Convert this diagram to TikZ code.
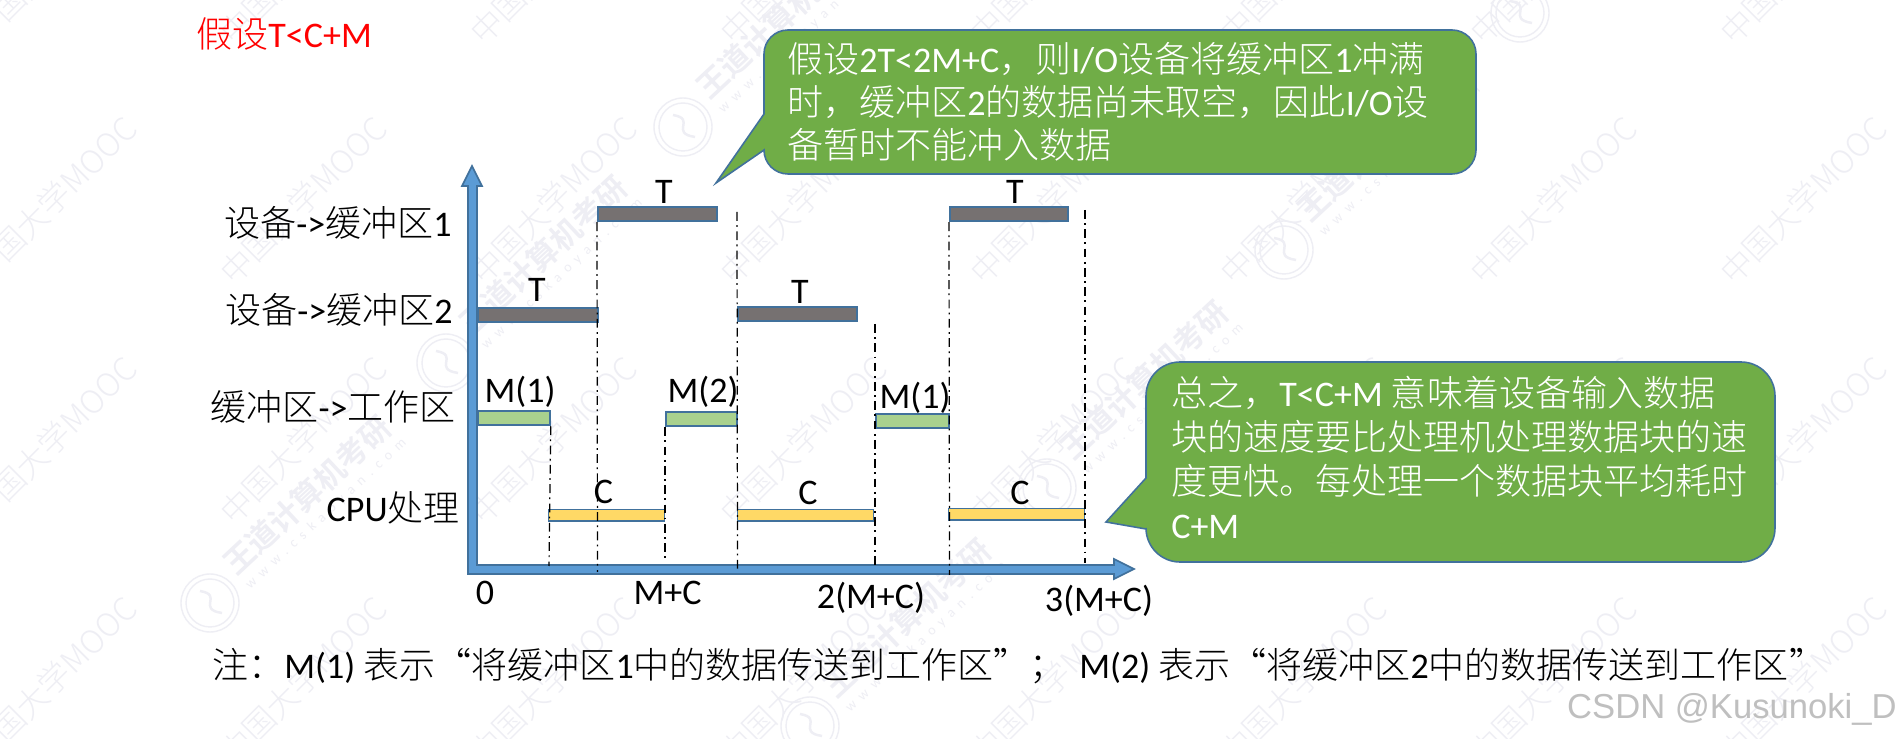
\documentclass[tikz,border=0pt]{standalone}
\usepackage{fontspec}
\usepackage{xcolor}
\setmainfont{Carlito}
\newfontfamily\cjk{Noto Sans CJK SC Light}
\newfontfamily\sitefont{Carlito}[LetterSpace=48]
\newfontfamily\stampfont{Liberation Sans}
\newcommand{\zh}[1]{{\cjk #1}}
\definecolor{axisblue}{RGB}{91, 155, 213}
\definecolor{edgeblue}{RGB}{65, 113, 156}
\definecolor{devgray}{RGB}{118, 113, 113}
\definecolor{memgreen}{RGB}{169, 209, 142}
\definecolor{cpuyellow}{RGB}{255, 217, 102}
\definecolor{calloutgreen}{RGB}{112, 173, 71}
\definecolor{markgray}{RGB}{238, 238, 244}
\usetikzlibrary{arrows.meta, positioning, calc}
\tikzset{
    timebar/.style={draw=edgeblue, line width=1pt, anchor=north west, inner sep=0pt, minimum height=0.29cm},
    devbar/.style={timebar, fill=devgray},
    membar/.style={timebar, fill=memgreen},
    cpubar/.style={timebar, fill=cpuyellow, line width=0.8pt, minimum height=0.23cm},
    guide/.style={black, line width=0.7pt, dash pattern=on 5pt off 2.5pt on 1pt off 2.5pt},
    callout/.style={draw=edgeblue, line width=0.9pt, fill=calloutgreen},
    lbl/.style={inner sep=0pt, font=\fontsize{20.5}{24.4}\selectfont},
    calloutlbl/.style={lbl, white, align=left, anchor=north west},
    rowlbl/.style={lbl, anchor=east},
    mooc/.style={inner sep=0pt, rotate=45, text=markgray, font=\cjk\fontsize{18.2}{20}\selectfont},
    wangdao/.style={inner sep=0pt, rotate=43, text=markgray, font=\cjk\bfseries\fontsize{17.5}{20}\selectfont},
    site/.style={inner sep=0pt, rotate=43, text=markgray, font=\sitefont\fontsize{8}{10}\selectfont},
    logo/.style={markgray, line width=0.8pt}
}
\begin{document}
\begin{tikzpicture}[x=0.02cm, y=-0.02cm]
    \useasboundingbox[fill=white] (0,0) rectangle (1897,739);

    % faint marks behind everything
    \foreach \i in {0,...,7}
        \foreach \j in {-1,...,2}
            \node[mooc] (mooc\i\j) at ({53+250*\i},{200+240*\j}) {中国大学MOOC};
    \foreach \lx/\ly [count=\k] in {210/603, 446/363, 683/127, 810/726, 1047/488, 1284/250, 1520/13} {
        \draw[logo] (\lx,\ly) circle (0.58cm) circle (0.48cm);
        \draw[logo, line width=1.4pt] (\lx-10,\ly-12) .. controls (\lx+14,\ly-8) and (\lx-14,\ly+6) .. (\lx+12,\ly+10);
        \node[wangdao] (wd\k) at (\lx+97,\ly-108) {王道计算机考研};
        \node[site] (site\k) at (\lx+116,\ly-89) {www.cskaoyan.com};
    }

    \node[lbl, red, anchor=west] (title) at (196,34) {\zh{假设}T<C+M};

    % axes as one bent block arrow
    \draw[draw=edgeblue, line width=0.9pt, fill=axisblue]
        (477,565) -- (1114,565) -- (1114,559) -- (1134,569) -- (1114,579) -- (1114,574)
        -- (468,574) -- (468,186) -- (462,186) -- (472,166) -- (482,186) -- (477,186) -- cycle;

    % time bars
    \node[devbar, minimum width=2.38cm] (dev1a) at (597,206) {};
    \node[devbar, minimum width=2.36cm] (dev1b) at (949,206) {};
    \node[devbar, minimum width=2.40cm] (dev2a) at (477,307) {};
    \node[devbar, minimum width=2.38cm] (dev2b) at (737,306) {};
    \node[membar, minimum width=1.44cm] (mem1a) at (477,410) {};
    \node[membar, minimum width=1.42cm] (mem2a) at (665,411) {};
    \node[membar, minimum width=1.46cm] (mem1b) at (875,413) {};
    \node[cpubar, minimum width=2.32cm] (cpua) at (548,509) {};
    \node[cpubar, minimum width=2.72cm] (cpub) at (737,509) {};
    \node[cpubar, minimum width=2.72cm] (cpuc) at (948,508) {};

    % guide lines
    \coordinate (top4) at (737,212);
    \coordinate (top5) at (875,324);
    \coordinate (top7) at (1085,210);
    \coordinate (end1) at (549,566);
    \coordinate (end2) at (597.5,572);
    \coordinate (end3) at (665,561);
    \coordinate (end4) at (737.5,573);
    \coordinate (end5) at (875,565);
    \coordinate (end6) at (949.5,575);
    \coordinate (end7) at (1085,563);
    \draw[guide] (mem1a.south east) -- (end1);
    \draw[guide] (dev1a.south west) -- (end2);
    \draw[guide] (mem2a.south west) -- (end3);
    \draw[guide] (top4) -- (end4);
    \draw[guide] (top5) -- (end5);
    \draw[guide] (dev1b.south west) -- (end6);
    \draw[guide] (top7) -- (end7);

    % row names
    \node[rowlbl] (row1) at (452,223) {\zh{设备}->\zh{缓冲区}1};
    \node[rowlbl] (row2) at (453,310) {\zh{设备}->\zh{缓冲区}2};
    \node[rowlbl] (row3) at (456,407) {\zh{缓冲区}->\zh{工作区}};
    \node[rowlbl] (row4) at (460,508) {CPU\zh{处理}};

    % bar labels
    \node[lbl] (t1) at (664,192) {T};
    \node[lbl] (t2) at (537,290) {T};
    \node[lbl] (t3) at (800,292) {T};
    \node[lbl] (t4) at (1015,192) {T};
    \node[lbl] (m1) at (520,392) {M(1)};
    \node[lbl] (m2) at (703,392) {M(2)};
    \node[lbl] (m3) at (915,398) {M(1)};
    \node[lbl] (c1) at (603.5,492) {C};
    \node[lbl] (c2) at (808,493) {C};
    \node[lbl] (c3) at (1020,493) {C};

    % axis ticks
    \node[lbl] (tick0) at (485,593) {0};
    \node[lbl] (tick1) at (667.5,593) {M+C};
    \node[lbl] (tick2) at (871,598) {2(M+C)};
    \node[lbl] (tick3) at (1099,601) {3(M+C)};

    % callouts
    \draw[callout] (764,114) [rounded corners=0.48cm] -- (764,30) -- (1476,30) -- (1476,174) -- (764,174)
        [sharp corners] -- (764,150) -- (716,183) -- cycle;
    \node[calloutlbl] (note1) at (787,42) {\zh{假设}2T<2M+C\zh{，则}I/O\zh{设备将缓冲区}1\zh{冲满}\\
        \zh{时，缓冲区}2\zh{的数据尚未取空，因此}I/O\zh{设}\\
        \zh{备暂时不能冲入数据}};
    \draw[callout] (1146,478) [rounded corners=0.68cm] -- (1146,362) -- (1775,362) -- (1775,562) -- (1146,562)
        [sharp corners] -- (1146,529) -- (1106,522) -- cycle;
    \node[calloutlbl, font=\fontsize{20.5}{25}\selectfont] (note2) at (1171,376) {\zh{总之，}T<C+M \zh{意味着设备输入数据}\\
        \zh{块的速度要比处理机处理数据块的速}\\
        \zh{度更快。每处理一个数据块平均耗时}\\
        C+M};

    % footnote
    \node[lbl, anchor=west] (foot) at (212,666) {\zh{注：}M(1) \zh{表示“将缓冲区}1\zh{中的数据传送到工作区”；}\hspace{3pt} M(2) \zh{表示“将缓冲区}2\zh{中的数据传送到工作区”}};
    \node[inner sep=0pt, anchor=east, text=black!25, font=\stampfont\fontsize{19.7}{24}\selectfont] (stamp) at (1897,709) {CSDN @Kusunoki\_D};
\end{tikzpicture}
\end{document}
